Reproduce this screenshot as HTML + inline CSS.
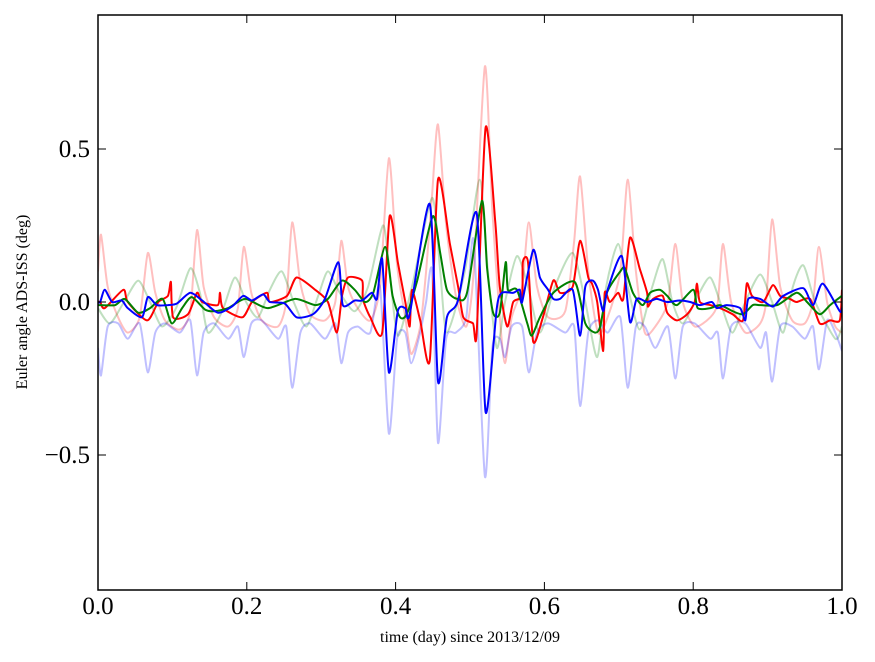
<!DOCTYPE html>
<html><head><meta charset="utf-8"><style>
html,body{margin:0;padding:0;background:#fff}
svg{display:block}
text{font-family:"Liberation Serif",serif;fill:#000}
</style></head><body>
<svg id="chart" width="875" height="662" viewBox="0 0 875 662">
<defs><clipPath id="clip"><rect x="98" y="15" width="744" height="575"/></clipPath></defs>
<g id="series" clip-path="url(#clip)"></g>
<rect x="98" y="15" width="744" height="575" fill="none" stroke="#000" stroke-width="1.5"/>
<g id="axes"></g>
<text x="470" y="642" font-size="16" text-anchor="middle">time (day) since 2013/12/09</text>
<text transform="translate(27,302) rotate(-90)" font-size="16" text-anchor="middle">Euler angle ADS-ISS (deg)</text>
</svg>
<script>
const xTicks=[0,0.2,0.4,0.6,0.8,1.0];
const xTickLabels=["0.0","0.2","0.4","0.6","0.8","1.0"];
const yTicks=[0.5,0,-0.5];
const yTickLabels=["0.5","0.0","\u22120.5"];

const lrX=[0,.004,.013,.027,.040,.056,.067,.077,.090,.110,.124,.133,.142,.156,.175,.188,.196,.206,.220,.242,.253,.261,.272,.285,.305,.319,.327,.336,.349,.366,.379,.391,.402,.413,.421,.433,.441,.449,.457,.468,.481,.495,.505,.520,.530,.540,.547,.556,.570,.579,.590,.605,.628,.640,.648,.659,.672,.685,.702,.712,.723,.735,.749,.766,.776,.786,.802,.823,.833,.840,.851,.870,.890,.898,.906,.917,.933,.950,.961,.969,.980,.991,1];
const lrY=[0.1,0.22,0.05,-0.05,-0.1,-0.05,0.16,0.03,-0.06,-0.09,-0.03,0.235,0.05,-0.05,-0.08,-0.02,0.18,0.03,-0.06,-0.08,0,0.26,0.06,-0.04,-0.06,0,0.2,0.05,-0.02,-0.06,0.05,0.47,0.12,-0.05,-0.17,-0.08,0.1,0.35,0.58,0.25,0.02,-0.08,0.1,0.77,0.3,-0.05,-0.2,-0.05,0.05,0.26,0.05,-0.05,-0.03,0.2,0.41,0.1,-0.1,-0.05,0.1,0.4,0.1,-0.1,-0.08,0,0.19,0,-0.08,-0.05,0,0.19,0,-0.1,-0.07,0,0.27,0.05,-0.06,-0.07,0,0.18,0,-0.08,-0.1];
const lbX=lrX;
const lbY=[-0.15,-0.24,-0.08,-0.07,-0.12,-0.07,-0.23,-0.1,-0.07,-0.1,-0.06,-0.24,-0.1,-0.07,-0.12,-0.08,-0.18,-0.07,-0.06,-0.12,-0.08,-0.28,-0.1,-0.07,-0.12,-0.07,-0.2,-0.1,-0.08,-0.1,0.05,-0.43,-0.12,-0.1,-0.2,-0.1,0,0.1,-0.46,-0.12,-0.1,-0.05,0.2,-0.57,-0.15,-0.12,-0.18,-0.08,-0.08,-0.23,-0.1,-0.07,-0.1,-0.08,-0.34,-0.1,-0.06,-0.1,-0.05,-0.28,-0.08,-0.08,-0.15,-0.08,-0.25,-0.08,-0.07,-0.12,-0.1,-0.25,-0.08,-0.07,-0.15,-0.1,-0.26,-0.08,-0.08,-0.12,-0.08,-0.22,-0.06,-0.1,-0.16];
const lgX=[0,.016,.035,.054,.070,.086,.105,.124,.137,.148,.167,.184,.199,.215,.231,.247,.263,.280,.296,.309,.325,.345,.363,.383,.392,.403,.422,.449,.460,.469,.493,.513,.524,.536,.547,.563,.578,.594,.614,.638,.655,.671,.683,.699,.712,.728,.745,.759,.772,.786,.806,.823,.839,.853,.870,.890,.906,.921,.934,.948,.964,.991,1];
const lgY=[-0.02,-0.07,0,0.07,0,-0.08,-0.02,0.11,0.03,-0.1,-0.03,0.08,0,-0.05,0.04,0.1,0,-0.08,0.02,0.1,0.03,-0.03,0.05,0.25,0.1,-0.11,0.05,0.34,0.1,-0.1,0.1,0.4,0.1,-0.15,0,0.15,0.05,-0.1,0.05,0.16,0,-0.18,0.05,0.19,0.05,-0.09,0.05,0.14,0,-0.07,0.02,0.08,-0.02,-0.1,0,0.09,0,-0.1,0.05,0.12,0,-0.12,-0.08];

const rX=[0,.003,.009,.034,.040,.066,.081,.094,.098,.101,.121,.133,.140,.161,.164,.168,.194,.207,.227,.231,.254,.267,.292,.309,.321,.328,.336,.355,.356,.366,.382,.392,.403,.413,.419,.422,.433,.446,.457,.473,.484,.491,.504,.509,.521,.534,.540,.550,.558,.570,.571,.578,.585,.598,.612,.621,.638,.648,.659,.664,.671,.679,.681,.688,.699,.706,.715,.728,.738,.739,.746,.759,.765,.778,.792,.802,.805,.809,.823,.836,.853,.867,.872,.879,.894,.907,.917,.930,.939,.957,.970,.984,.997,1];
const rY=[0,0,-0.02,0.04,0,-0.06,0,0.02,0.065,-0.05,-0.04,0.03,0,-0.01,0.03,-0.02,-0.05,0,0.03,0,0.02,0.08,0.04,0,-0.1,0.02,0.08,0.07,0.01,-0.05,-0.1,0.28,0.13,0,-0.08,0.04,-0.06,-0.19,0.4,0.19,0.05,-0.05,-0.07,-0.1,0.57,0.26,0.05,-0.08,0,0.02,0.13,0.13,-0.13,-0.05,0.07,0.03,0.05,0.2,0.08,0.06,0,-0.16,0.03,0,0.03,0.01,0.21,0.11,0.03,-0.015,0.01,0.02,-0.035,-0.06,-0.04,0,0.06,0,-0.01,-0.02,-0.04,-0.06,0.06,0.02,0,0.055,0.02,0.01,0,0.01,-0.07,-0.06,-0.06,0.04];
const gX=[0,.003,.023,.036,.054,.070,.087,.099,.113,.126,.144,.157,.175,.198,.228,.265,.292,.309,.328,.345,.359,.370,.386,.396,.406,.415,.429,.450,.460,.469,.483,.496,.516,.523,.531,.540,.548,.551,.563,.577,.583,.594,.612,.641,.655,.668,.675,.684,.702,.708,.719,.732,.742,.755,.765,.778,.800,.806,.823,.836,.853,.867,.880,.890,.913,.939,.953,.970,.984,.997,1];
const gY=[-0.01,-0.01,-0.01,0.01,-0.035,-0.02,0.01,-0.07,-0.02,0.016,-0.025,-0.03,-0.02,0.01,-0.02,0.01,-0.01,0.01,0.07,0.04,0,0.03,0.18,0.02,-0.05,-0.04,0.07,0.28,0.16,0.04,0.01,0.03,0.33,0.11,-0.035,-0.035,0.13,0.04,0.04,-0.07,-0.11,-0.05,0.03,0.065,-0.07,-0.1,-0.08,0.03,0.1,0.11,0.03,-0.01,0.03,0.04,0.02,-0.01,0.04,-0.02,-0.02,-0.01,-0.03,-0.04,-0.01,-0.01,-0.01,0.03,0,-0.04,-0.01,0.015,0.02];
const bX=[0,.003,.009,.019,.032,.040,.059,.067,.079,.094,.106,.124,.140,.161,.180,.195,.207,.222,.231,.251,.267,.289,.305,.323,.329,.345,.355,.368,.375,.382,.391,.403,.413,.419,.446,.457,.469,.484,.509,.521,.536,.543,.558,.567,.570,.585,.594,.605,.612,.621,.638,.648,.655,.665,.672,.679,.685,.704,.715,.724,.738,.751,.765,.782,.796,.809,.825,.832,.845,.863,.870,.874,.890,.907,.921,.948,.961,.974,.997,1];
const bY=[0,0,0.04,0,0.005,-0.02,-0.05,0.016,-0.01,-0.01,-0.005,0.03,0.005,-0.035,-0.015,0.02,0.005,0.025,0,-0.005,-0.05,-0.04,0.01,0.13,-0.01,0.005,0.005,0.03,0.01,0.14,-0.23,-0.03,-0.02,-0.04,0.32,-0.26,-0.05,0.006,0.29,-0.36,-0.02,0.03,0.03,0.04,0,0.17,0.08,0.04,0.01,0.01,0.04,-0.11,0.05,0.07,0.04,-0.03,0.04,0.15,-0.065,0.01,0,0.01,0,0.005,0,-0.01,0,-0.02,-0.01,-0.02,-0.06,0.01,0.01,-0.015,0.02,0.045,-0.01,0.06,-0.03,-0.02];

const X0=98,X1=842,Y0=302,YS=306;
function sx(v){return X0+(X1-X0)*v;}
function sy(v){return Y0-v*YS;}
const NS="http://www.w3.org/2000/svg";
const sg=document.getElementById('series');
function draw(xs,ys,color,op,name){
  const P=xs.map((x,i)=>[sx(x),sy(ys[i])]);
  let d="M"+P[0][0].toFixed(1)+","+P[0][1].toFixed(1);
  const k=0.12;
  for(let i=0;i<P.length-1;i++){
    const p0=P[Math.max(0,i-1)],p1=P[i],p2=P[i+1],p3=P[Math.min(P.length-1,i+2)];
    const c1x=p1[0]+(p2[0]-p0[0])*k,c1y=p1[1]+(p2[1]-p0[1])*k;
    const c2x=p2[0]-(p3[0]-p1[0])*k,c2y=p2[1]-(p3[1]-p1[1])*k;
    d+="C"+c1x.toFixed(1)+","+c1y.toFixed(1)+" "+c2x.toFixed(1)+","+c2y.toFixed(1)+" "+p2[0].toFixed(1)+","+p2[1].toFixed(1);
  }
  const p=document.createElementNS(NS,'path');
  p.setAttribute('d',d);p.setAttribute('fill','none');p.setAttribute('stroke',color);
  p.setAttribute('stroke-opacity',op);p.setAttribute('stroke-width','2');p.setAttribute('stroke-linejoin','round');
  
  
  sg.appendChild(p);
}
draw(lrX,lrY,'#ff0000',0.25,'faint-red-series');
draw(lgX,lgY,'#008000',0.25,'faint-green-series');
draw(lbX,lbY,'#0000ff',0.25,'faint-blue-series');
draw(rX,rY,'#ff0000',1,'red-series');
draw(gX,gY,'#008000',1,'green-series');
draw(bX,bY,'#0000ff',1,'blue-series');

const ax=document.getElementById('axes');
function ln(x1,y1,x2,y2,name){
  const l=document.createElementNS(NS,'line');
  l.setAttribute('x1',x1);l.setAttribute('y1',y1);l.setAttribute('x2',x2);l.setAttribute('y2',y2);
  l.setAttribute('stroke','#000');l.setAttribute('stroke-width','1');
  
  
  ax.appendChild(l);
}
function tx(x,y,s,anchor,name){
  const t=document.createElementNS(NS,'text');
  t.setAttribute('x',x);t.setAttribute('y',y);t.setAttribute('font-size','25');t.setAttribute('text-anchor',anchor);
  t.textContent=s;
  
  
  ax.appendChild(t);
}
xTicks.forEach((v,i)=>{
  const x=sx(v);
  ln(x,590,x,582,'x-tick');ln(x,15,x,23,'x-tick-top');
  tx(x,614,xTickLabels[i],'middle','x-tick-label');
});
yTicks.forEach((v,i)=>{
  const y=sy(v);
  ln(98,y,106,y,'y-tick');ln(842,y,834,y,'y-tick-right');
  tx(90,y+8,yTickLabels[i],'end','y-tick-label');
});
</script>
</body></html>
